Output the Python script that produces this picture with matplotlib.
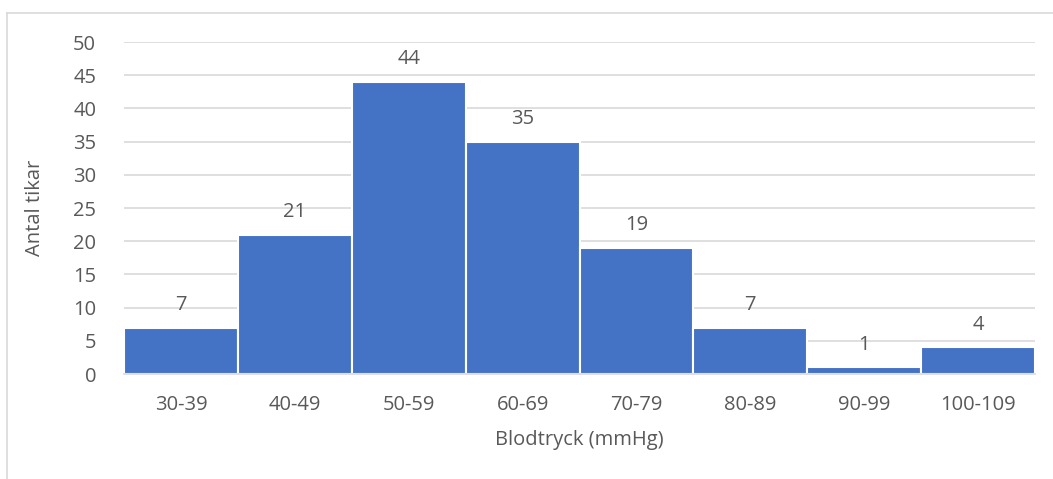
import matplotlib
matplotlib.use("Agg")
import matplotlib.pyplot as plt
from matplotlib.lines import Line2D

categories = ["30-39", "40-49", "50-59", "60-69", "70-79", "80-89", "90-99", "100-109"]
counts = [7, 21, 44, 35, 19, 7, 1, 4]
yticks = [0, 5, 10, 15, 20, 25, 30, 35, 40, 45, 50]

plt.rcParams['font.family'] = ['Open Sans', 'DejaVu Sans']
txt = '#595959'
fs = 14.5

fig = plt.figure(figsize=(10.53, 4.79), dpi=100)
ax = fig.add_axes([124/1053, 1 - 374/479, (1035 - 124)/1053, (374 - 42)/479])

x = list(range(len(categories)))
bars = ax.bar(x, counts, width=1.0, color='#4472C4', edgecolor='white', linewidth=1.5, zorder=3)
for xi, v in zip(x, counts):
    ax.annotate(str(v), (xi, v), xytext=(0, 9), textcoords='offset points',
                ha='center', va='bottom', fontsize=fs, color=txt)

ax.set_xlim(-0.5, len(categories) - 0.5)
ax.set_ylim(0, 50)
ax.set_yticks(yticks)
ax.set_xticks(x)
ax.set_xticklabels(categories)
ax.tick_params(axis='both', length=0, labelsize=fs, labelcolor=txt)
ax.tick_params(axis='x', pad=15)
ax.tick_params(axis='y', pad=20)
ax.yaxis.grid(True, color='#D9D9D9', linewidth=1.2, zorder=0)
ax.set_axisbelow(True)
for s in ['top', 'right', 'left']:
    ax.spines[s].set_visible(False)
ax.spines['bottom'].set_color('#D9D9D9')
ax.spines['bottom'].set_linewidth(1.2)
ax.spines['bottom'].set_zorder(4)

ax.set_xlabel('Blodtryck (mmHg)', fontsize=fs, color=txt, labelpad=11)
ax.set_ylabel('Antal tikar', fontsize=fs, color=txt, labelpad=20)

# chart-area border (left and top visible)
fig.add_artist(Line2D([7/1053, 7/1053], [0, 1 - 13/479], color='#D9D9D9', linewidth=1.2, transform=fig.transFigure))
fig.add_artist(Line2D([7/1053, 1], [1 - 13/479, 1 - 13/479], color='#D9D9D9', linewidth=1.2, transform=fig.transFigure))

fig.savefig('out.png', dpi=100, facecolor='white')
